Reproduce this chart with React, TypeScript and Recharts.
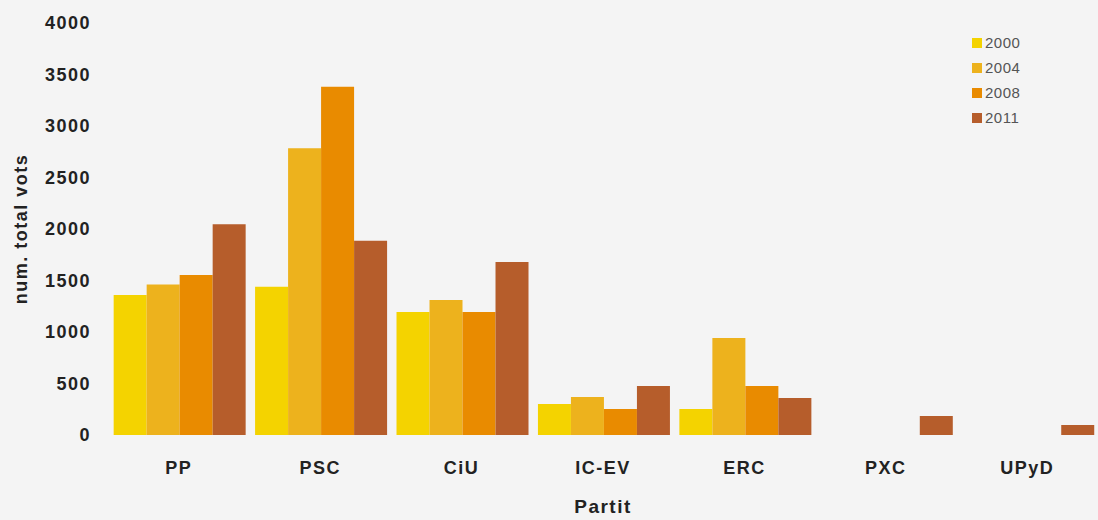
import React from 'react';
import { BarChart, Bar, XAxis, YAxis, Label } from 'recharts';

const parties = ['PP', 'PSC', 'CiU', 'IC-EV', 'ERC', 'PXC', 'UPyD'];
const years = ['2000', '2004', '2008', '2011'];
const votes2000 = [1360, 1440, 1195, 300, 252, null, null];
const votes2004 = [1460, 2785, 1310, 370, 942, null, null];
const votes2008 = [1553, 3380, 1195, 252, 476, null, null];
const votes2011 = [2045, 1885, 1680, 476, 360, 184, 97];
const yTicks = [0, 500, 1000, 1500, 2000, 2500, 3000, 3500, 4000];
const colors = ['#F4D300', '#EDB21D', '#E98B00', '#B65D2B'];

const seriesValues = [votes2000, votes2004, votes2008, votes2011];
const data = parties.map((p, i) => {
  const row: any = { party: p };
  years.forEach((y, k) => {
    row[y] = seriesValues[k][i];
  });
  return row;
});

const FONT = '"Liberation Sans", Arial, sans-serif';

const LegendBox = () => (
  <div style={{ position: 'absolute', top: 30, left: 972, fontFamily: FONT }}>
    {years.map((y, i) => (
      <div key={y} style={{ display: 'flex', alignItems: 'center', height: 25 }}>
        <div style={{ width: 10, height: 10, background: colors[i], marginRight: 3 }} />
        <span style={{ fontSize: 15, color: '#555', letterSpacing: 0.5 }}>{y}</span>
      </div>
    ))}
  </div>
);

const YLabel = () => (
  <text
    x={21}
    y={229}
    transform="rotate(-90 21 229)"
    textAnchor="middle"
    dominantBaseline="central"
    fontFamily={FONT}
    fontWeight="bold"
    fontSize={18}
    letterSpacing={1.5}
    fill="#222"
  >
    num. total vots
  </text>
);

export default function App() {
  return (
    <div style={{ position: 'absolute', left: 0, top: 0, width: 1098, height: 520, background: '#F4F4F4' }}>
      <BarChart
        width={1098}
        height={520}
        data={data}
        margin={{ top: 23, right: 0, bottom: 0, left: 0 }}
        barCategoryGap="4%"
        barGap={0}
      >
        <XAxis
          dataKey="party"
          height={85}
          axisLine={false}
          tickLine={false}
          tickSize={0}
          tickMargin={26}
          tick={{ fontFamily: FONT, fontWeight: 'bold', fontSize: 18, fill: '#222', letterSpacing: 1.5 }}
          interval={0}
        >
          <Label
            value="Partit"
            position="insideBottom"
            offset={7}
            style={{ fontFamily: FONT, fontWeight: 'bold', fontSize: 19, fill: '#222', letterSpacing: 1.5 }}
          />
        </XAxis>
        <YAxis
          width={108}
          domain={[0, 4000]}
          ticks={yTicks}
          axisLine={false}
          tickLine={false}
          tickSize={0}
          tickMargin={17}
          tick={{ fontFamily: FONT, fontWeight: 'bold', fontSize: 18, fill: '#222', letterSpacing: 1.5 }}
          interval={0}
        >
          <Label content={<YLabel />} />
        </YAxis>
        {years.map((y, i) => (
          <Bar key={y} dataKey={y} fill={colors[i]} isAnimationActive={false} />
        ))}
      </BarChart>
      <LegendBox />
    </div>
  );
}
